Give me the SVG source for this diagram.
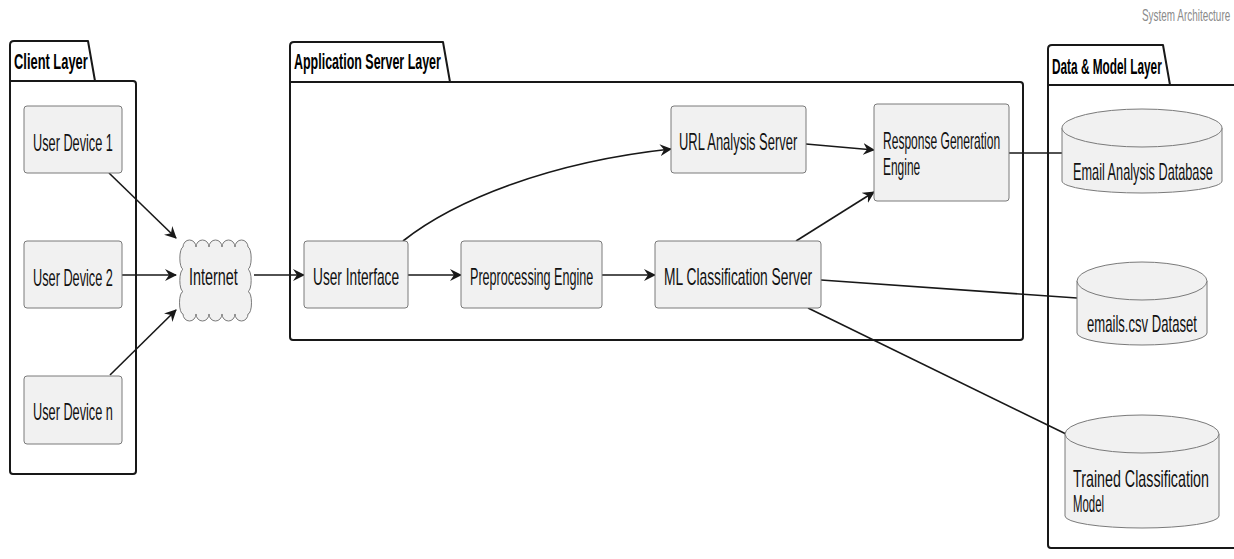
<svg xmlns="http://www.w3.org/2000/svg" width="1234" height="559" viewBox="0 0 1234 559">
  <style>
    .frame { fill: none; stroke: #181818; stroke-width: 2; }
    .tab { fill: #ffffff; stroke: #181818; stroke-width: 2; stroke-linejoin: round; }
    .tabtext { font-family: "Liberation Sans", Arial, sans-serif; font-weight: bold; font-size: 22px; fill: #000000; }
    .box { fill: #f1f1f1; stroke: #7a7a7a; stroke-width: 1; }
    .label { font-family: "Liberation Sans", Arial, sans-serif; font-size: 23px; fill: #111111; }
    .link { fill: none; stroke: #181818; stroke-width: 1.6; }
    .title { font-family: "Liberation Sans", Arial, sans-serif; font-size: 16px; fill: #8a8a8a; }
  </style>
  <defs>
    <marker id="arrow" viewBox="0 0 12 12" refX="11" refY="6" markerWidth="12" markerHeight="12" markerUnits="userSpaceOnUse" orient="auto">
      <path d="M0,0 L12,6 L0,12 L4,6 Z" fill="#181818"/>
    </marker>
  </defs>

  <rect width="1234" height="559" fill="#ffffff"/>

  <!-- narrow lettering: horizontal scale on each text -->
  <text class="title" transform="translate(1142,21) scale(0.6,1)" textLength="147" lengthAdjust="spacingAndGlyphs">System Architecture</text>

  <!-- Layers -->
  <g id="client-layer">
    <path class="tab" d="M10,81 L10,45 Q10,41 14,41 L88,41 L95,81"/>
    <path class="frame" d="M10,81 L133,81 Q136,81 136,84 L136,471 Q136,474 133,474 L13,474 Q10,474 10,471 Z"/>
    <text class="tabtext" transform="translate(14,69) scale(0.59,1)" textLength="125" lengthAdjust="spacingAndGlyphs">Client Layer</text>
  </g>
  <g id="app-layer">
    <path class="tab" d="M290,82 L290,46 Q290,42 294,42 L443,42 L450,82"/>
    <path class="frame" d="M290,82 L1020,82 Q1023,82 1023,85 L1023,337 Q1023,340 1020,340 L293,340 Q290,340 290,337 Z"/>
    <text class="tabtext" transform="translate(294,69) scale(0.59,1)" textLength="249" lengthAdjust="spacingAndGlyphs">Application Server Layer</text>
  </g>
  <g id="data-layer">
    <path class="tab" d="M1048,85 L1048,49 Q1048,45 1052,45 L1163,45 L1170,85"/>
    <path class="frame" d="M1048,85 L1240,85 L1240,548 L1051,548 Q1048,548 1048,545 Z"/>
    <text class="tabtext" transform="translate(1052,74) scale(0.59,1)" textLength="186" lengthAdjust="spacingAndGlyphs">Data &amp; Model Layer</text>
  </g>

  <!-- Connectors -->
  <g id="connectors">
    <line class="link" x1="109" y1="173" x2="176" y2="238" marker-end="url(#arrow)"/>
    <line class="link" x1="122" y1="275" x2="176" y2="275" marker-end="url(#arrow)"/>
    <line class="link" x1="110" y1="375" x2="176" y2="310" marker-end="url(#arrow)"/>
    <line class="link" x1="254" y1="275" x2="304" y2="275" marker-end="url(#arrow)"/>
    <path class="link" d="M403,241 C455,200 550,162 671,149" marker-end="url(#arrow)"/>
    <line class="link" x1="408" y1="275" x2="461" y2="275" marker-end="url(#arrow)"/>
    <line class="link" x1="602" y1="275" x2="655" y2="275" marker-end="url(#arrow)"/>
    <line class="link" x1="806" y1="144" x2="874" y2="150" marker-end="url(#arrow)"/>
    <line class="link" x1="796" y1="241" x2="874" y2="192" marker-end="url(#arrow)"/>
    <line class="link" x1="1009" y1="153" x2="1062" y2="153"/>
    <line class="link" x1="821" y1="280" x2="1077" y2="298"/>
    <line class="link" x1="808" y1="308" x2="1066" y2="434"/>
  </g>

  <!-- Client nodes -->
  <g id="user-device-1">
    <rect class="box" x="24" y="106" width="98" height="67" rx="3"/>
    <text class="label" transform="translate(33,151) scale(0.555,1)" textLength="144" lengthAdjust="spacingAndGlyphs">User Device 1</text>
  </g>
  <g id="user-device-2">
    <rect class="box" x="24" y="241" width="98" height="67" rx="3"/>
    <text class="label" transform="translate(33,286) scale(0.555,1)" textLength="144" lengthAdjust="spacingAndGlyphs">User Device 2</text>
  </g>
  <g id="user-device-n">
    <rect class="box" x="24" y="376" width="98" height="68" rx="3"/>
    <text class="label" transform="translate(33,420) scale(0.555,1)" textLength="144" lengthAdjust="spacingAndGlyphs">User Device n</text>
  </g>

  <g id="internet">
    <path class="box" d="M183,247 a6.5,7 0 0,1 13,0 a6.5,7 0 0,1 13,0 a6.5,7 0 0,1 13,0 a6.5,7 0 0,1 13,0 a6.5,7 0 0,1 13,0 a3.5,11.2 0 0,1 0,22.3 a3.5,11.2 0 0,1 0,22.3 a3.5,11.2 0 0,1 0,22.4 a6.5,7 0 0,1 -13,0 a6.5,7 0 0,1 -13,0 a6.5,7 0 0,1 -13,0 a6.5,7 0 0,1 -13,0 a6.5,7 0 0,1 -13,0 a3.5,11.2 0 0,1 0,-22.4 a3.5,11.2 0 0,1 0,-22.3 a3.5,11.2 0 0,1 0,-22.3 Z"/>
    <text class="label" transform="translate(189,285) scale(0.555,1)" textLength="88" lengthAdjust="spacingAndGlyphs">Internet</text>
  </g>

  <!-- Application server nodes -->
  <g id="user-interface">
    <rect class="box" x="304" y="241" width="104" height="67" rx="3"/>
    <text class="label" transform="translate(313,285) scale(0.555,1)" textLength="155" lengthAdjust="spacingAndGlyphs">User Interface</text>
  </g>
  <g id="preprocessing-engine">
    <rect class="box" x="461" y="241" width="141" height="67" rx="3"/>
    <text class="label" transform="translate(470,285) scale(0.555,1)" textLength="222" lengthAdjust="spacingAndGlyphs">Preprocessing Engine</text>
  </g>
  <g id="ml-classification-server">
    <rect class="box" x="655" y="241" width="166" height="67" rx="3"/>
    <text class="label" transform="translate(664,285) scale(0.555,1)" textLength="267" lengthAdjust="spacingAndGlyphs">ML Classification Server</text>
  </g>
  <g id="url-analysis-server">
    <rect class="box" x="671" y="106" width="135" height="67" rx="3"/>
    <text class="label" transform="translate(679,150) scale(0.555,1)" textLength="213" lengthAdjust="spacingAndGlyphs">URL Analysis Server</text>
  </g>
  <g id="response-generation-engine">
    <rect class="box" x="874" y="104" width="135" height="97" rx="3"/>
    <text class="label" transform="translate(883,149) scale(0.555,1)" textLength="211" lengthAdjust="spacingAndGlyphs">Response Generation</text>
    <text class="label" transform="translate(883,175) scale(0.555,1)" textLength="67" lengthAdjust="spacingAndGlyphs">Engine</text>
  </g>

  <!-- Data and model stores -->
  <g id="email-analysis-database">
    <path class="box" d="M1062,128 L1062,181 A80,12 0 0,0 1222,181 L1222,128 A80,19 0 0,0 1062,128 Z"/>
    <path class="box" d="M1062,128 A80,19 0 0,0 1222,128" fill="none"/>
    <text class="label" transform="translate(1073,180) scale(0.555,1)" textLength="252" lengthAdjust="spacingAndGlyphs">Email Analysis Database</text>
  </g>
  <g id="emails-csv-dataset">
    <path class="box" d="M1077,281 L1077,333 A65,12 0 0,0 1207,333 L1207,281 A65,19 0 0,0 1077,281 Z"/>
    <path class="box" d="M1077,281 A65,19 0 0,0 1207,281" fill="none"/>
    <text class="label" transform="translate(1087,332) scale(0.555,1)" textLength="198" lengthAdjust="spacingAndGlyphs">emails.csv Dataset</text>
  </g>
  <g id="trained-classification-model">
    <path class="box" d="M1065,434 L1065,516 A77,12 0 0,0 1219,516 L1219,434 A77,19 0 0,0 1065,434 Z"/>
    <path class="box" d="M1065,434 A77,19 0 0,0 1219,434" fill="none"/>
    <text class="label" transform="translate(1073,487) scale(0.555,1)" textLength="245" lengthAdjust="spacingAndGlyphs">Trained Classification</text>
    <text class="label" transform="translate(1073,512) scale(0.555,1)" textLength="56" lengthAdjust="spacingAndGlyphs">Model</text>
  </g>
</svg>
